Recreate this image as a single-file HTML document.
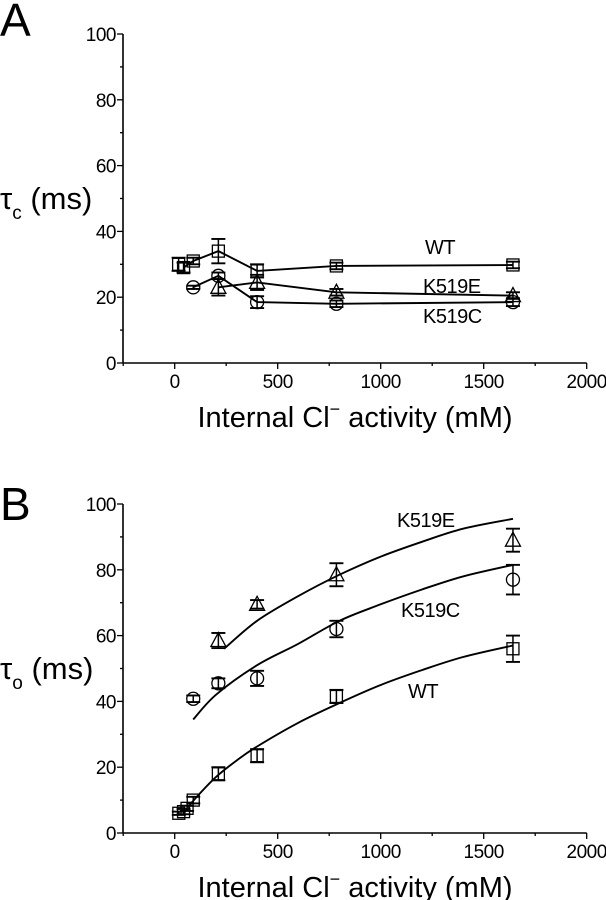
<!DOCTYPE html>
<html><head><meta charset="utf-8">
<style>
html,body{margin:0;padding:0;background:#fff;}
svg{display:block;font-family:"Liberation Sans",Arial,sans-serif;}
</style></head>
<body>
<svg id="fig" width="606" height="900" viewBox="0 0 606 900">
<text x="0" y="36" font-size="46">A</text>
<text x="0" y="520" font-size="46">B</text>
<g id="pa"></g>
<g id="pb"></g>
</svg>
<script>
// shared x ticks
const xTicks = [0, 500, 1000, 1500, 2000];
const yTicks = [0, 20, 40, 60, 80, 100];
// Panel A data
const aWtX = [19, 43, 90, 212, 400, 785, 1642];
const aWtY = [30, 29, 31, 34, 28, 29.5, 29.8];
const aWtE = [2, 1.5, 1, 3.7, 2, 1, 1];
const aCX = [90, 212, 400, 785, 1642];
const aCY = [23, 26.5, 18.5, 18, 18.5];
const aCE = [0.5, 1, 1.8, 1, 1.2];
const aEX = [212, 400, 785, 1642];
const aEY = [23, 24.5, 21.5, 20.5];
const aEE = [2.5, 2.3, 1, 1];
// Panel B data
const bWtX = [20, 43, 60, 90, 212, 400, 785, 1642];
const bWtY = [6, 6.5, 7.5, 10, 18, 23.5, 41.5, 56];
const bWtE = [0.5, 0.8, 0.8, 1, 2, 2, 2, 4];
const bCX = [90, 212, 400, 785, 1642];
const bCY = [40.8, 45.5, 47, 62, 77];
const bCE = [1, 1.5, 2.3, 2.5, 4.5];
const bEX = [212, 400, 785, 1642];
const bEY = [58.5, 69.5, 78.5, 89];
const bEE = [2.3, 1.3, 3.5, 3.5];
// fitted curves panel B
const fWtX = [60, 100, 200, 300, 400, 600, 800, 1000, 1200, 1400, 1642];
const fWtY = [7.5, 10.5, 17, 22, 26.3, 33.5, 39.5, 45, 49.5, 53.5, 57];
const fCX = [90, 200, 400, 600, 800, 1000, 1200, 1400, 1642];
const fCY = [34.5, 42, 51, 57.5, 64.5, 69.5, 74, 78, 81.5];
const fEX = [240, 400, 600, 800, 1000, 1200, 1400, 1642];
const fEY = [56, 64.5, 72, 78.5, 84, 88.5, 92.5, 95.5];

const NS = "http://www.w3.org/2000/svg";
function mk(parent, tag, attrs, name) {
  const el = document.createElementNS(NS, tag);
  for (const k in attrs) el.setAttribute(k, attrs[k]);
  
  
  parent.appendChild(el);
  return el;
}
function xs(v){ return 174.7 + v * 0.206; }

function smoothPath(P, smooth) {
  let d = 'M' + P[0][0].toFixed(1) + ',' + P[0][1].toFixed(1);
  for (let i = 0; i < P.length - 1; i++) {
    if (!smooth) { d += ' L' + P[i+1][0].toFixed(1) + ',' + P[i+1][1].toFixed(1); continue; }
    const p0 = P[Math.max(0,i-1)], p1 = P[i], p2 = P[i+1], p3 = P[Math.min(P.length-1,i+2)];
    const c1 = [p1[0] + (p2[0]-p0[0])/6, p1[1] + (p2[1]-p0[1])/6];
    const c2 = [p2[0] - (p3[0]-p1[0])/6, p2[1] - (p3[1]-p1[1])/6];
    d += ' C' + c1.map(v=>v.toFixed(1)).join(',') + ' ' + c2.map(v=>v.toFixed(1)).join(',') + ' ' + p2.map(v=>v.toFixed(1)).join(',');
  }
  return d;
}

function panel(g, top, yLabelSub, series, curves, labels, smooth) {
  const y0 = top + 329, ys = v => y0 - v * 3.29;
  const axX = 123, axEnd = xs(2000);
  mk(g, 'line', {x1:axX, y1:top, x2:axX, y2:y0, stroke:'#000','stroke-width':1.6}, 'y-axis');
  mk(g, 'line', {x1:axX, y1:y0, x2:axEnd, y2:y0, stroke:'#000','stroke-width':1.6}, 'x-axis');
  for (let v = 0; v <= 100; v += 10) {
    const major = v % 20 === 0;
    mk(g, 'line', {x1:axX - (major?6:3), y1:ys(v), x2:axX, y2:ys(v), stroke:'#000','stroke-width':1.3}, 'y-tick');
  }
  yTicks.forEach(v => {
    const t = mk(g, 'text', {x:axX - 7, y:ys(v) + 7, 'font-size':19, 'text-anchor':'end', 'letter-spacing':-0.5}, 'y-tick-label');
    t.textContent = v;
  });
  for (let v = -250; v <= 2000; v += 250) {
    const major = v % 500 === 0;
    mk(g, 'line', {x1:xs(v), y1:y0, x2:xs(v), y2:y0 + (major?6:3), stroke:'#000','stroke-width':1.3}, 'x-tick');
  }
  xTicks.forEach(v => {
    const t = mk(g, 'text', {x:xs(v), y:y0 + 25, 'font-size':19, 'text-anchor':'middle', 'letter-spacing':-0.5}, 'x-tick-label');
    t.textContent = v;
  });
  const xt = mk(g, 'text', {x:355, y:y0 + 64, 'font-size':29, 'text-anchor':'middle'}, 'x-axis-title');
  xt.innerHTML = 'Internal Cl<tspan dy="-12" font-size="18">&#8722;</tspan><tspan dy="12"> activity (mM)</tspan>';
  const yt = mk(g, 'text', {x:0, y:top + 175, 'font-size':31}, 'y-axis-title');
  yt.innerHTML = '&#964;<tspan dy="10" font-size="19">' + yLabelSub + '</tspan><tspan dy="-10"> (ms)</tspan>';

  curves.forEach(c => {
    const P = c.x.map((v,i) => [xs(v), ys(c.y[i])]);
    mk(g, 'path', {d:smoothPath(P, smooth), fill:'none', stroke:'#000', 'stroke-width':1.9}, c.name);
  });
  series.forEach(s => {
    s.x.forEach((v,i) => {
      const cx = xs(v), cy = ys(s.y[i]), e = s.e[i] * 3.29;
      mk(g, 'line', {x1:cx, y1:cy - e, x2:cx, y2:cy + e, stroke:'#000','stroke-width':1.5}, s.name + '-errorbar');
      mk(g, 'line', {x1:cx-7, y1:cy - e, x2:cx+7, y2:cy - e, stroke:'#000','stroke-width':1.9}, s.name + '-errorcap');
      mk(g, 'line', {x1:cx-7, y1:cy + e, x2:cx+7, y2:cy + e, stroke:'#000','stroke-width':1.9}, s.name + '-errorcap');
    });
  });
  series.forEach(s => {
    s.x.forEach((v,i) => {
      const cx = xs(v), cy = ys(s.y[i]);
      const st = {fill:'none', stroke:'#000', 'stroke-width':1.3};
      if (s.shape === 'sq') mk(g, 'rect', Object.assign({x:cx-6, y:cy-6, width:12, height:12}, st), s.name + '-point');
      else if (s.shape === 'ci') mk(g, 'circle', Object.assign({cx:cx, cy:cy, r:6.5}, st), s.name + '-point');
      else mk(g, 'polygon', Object.assign({points:`${cx},${cy-8} ${cx-7.5},${cy+6} ${cx+7.5},${cy+6}`}, st), s.name + '-point');
    });
  });
  labels.forEach(l => {
    const t = mk(g, 'text', {x:l[1], y:l[2], 'font-size':20, 'letter-spacing':-0.5}, 'series-label-' + l[0].toLowerCase());
    t.textContent = l[0];
  });
}

function conn(xArr, yArr, name) { return {x:xArr, y:yArr, name:name}; }

panel(document.getElementById('pa'), 34, 'c',
  [{x:aWtX,y:aWtY,e:aWtE,shape:'sq',name:'wt'},{x:aCX,y:aCY,e:aCE,shape:'ci',name:'k519c'},{x:aEX,y:aEY,e:aEE,shape:'tr',name:'k519e'}],
  [conn(aWtX.slice(1), aWtY.slice(1), 'wt-line'), conn(aCX, aCY, 'k519c-line'), conn(aEX, aEY, 'k519e-line')],
  [['WT',425,254],['K519E',423,293],['K519C',423,323]], false);

panel(document.getElementById('pb'), 504, 'o',
  [{x:bWtX,y:bWtY,e:bWtE,shape:'sq',name:'wt'},{x:bCX,y:bCY,e:bCE,shape:'ci',name:'k519c'},{x:bEX,y:bEY,e:bEE,shape:'tr',name:'k519e'}],
  [conn(fWtX, fWtY, 'wt-fit-curve'), conn(fCX, fCY, 'k519c-fit-curve'), conn(fEX, fEY, 'k519e-fit-curve')],
  [['K519E',397,527],['K519C',401,617],['WT',408,698]], true);
</script>
</body></html>
